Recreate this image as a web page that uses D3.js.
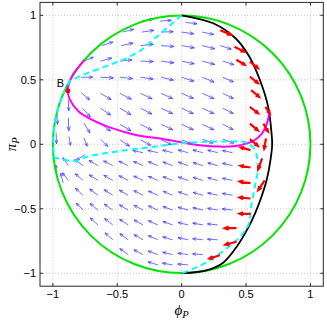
<!DOCTYPE html>
<html><head><meta charset="utf-8">
<script src="https://cdn.jsdelivr.net/npm/d3@7"></script>
<style>body{margin:0;background:#fff}</style>
</head><body>
<svg id="c" width="327" height="320"></svg>
<script>
// ---- data ----
const xTicks = [-1, -0.5, 0, 0.5, 1];
const yTicks = [-1, -0.5, 0, 0.5, 1];
const xTickLabels = ["\u22121", "\u22120.5", "0", "0.5", "1"];
const yTickLabels = ["\u22121", "\u22120.5", "0", "0.5", "1"];
const unitCircle = [{cx: 0, cy: 0, r: 1}];
const blackCurve = [[0,1],[0.245,0.938],[0.42,0.82],[0.525,0.68],[0.607,0.5],[0.672,0.29],[0.698,0.085],[0.703,0],[0.69,-0.12],[0.66,-0.277],[0.62,-0.406],[0.57,-0.535],[0.52,-0.64],[0.43,-0.79],[0.32,-0.92],[0.2,-0.975],[0,-1]];
const magentaCurve = [[-0.755,0.655],[-0.8,0.6],[-0.85,0.53],[-0.876,0.47],[-0.884,0.415],[-0.87,0.35],[-0.8,0.255],[-0.67,0.178],[-0.54,0.125],[-0.41,0.086],[-0.29,0.06],[-0.17,0.045],[0,0.015],[0.14,-0.008],[0.3,-0.018],[0.42,-0.013],[0.5,0.005],[0.56,0.028],[0.625,0.085],[0.662,0.16],[0.68,0.24]];
const cyanUpper = [[0,1],[-0.16,0.862],[-0.32,0.725],[-0.43,0.665],[-0.6,0.6],[-0.75,0.545],[-0.87,0.493],[-0.92,0.39],[-0.96,0.28],[-0.985,0.17],[-0.998,0.05],[-0.995,-0.1]];
const cyanLower = [[-0.995,-0.1],[-0.9,-0.122],[-0.83,-0.13],[-0.75,-0.1],[-0.63,-0.075],[-0.5,-0.055],[-0.3,-0.03],[-0.15,-0.01],[0,0.008],[0.2,0.02],[0.4,0.022],[0.5,0.015],[0.56,-0.03],[0.59,-0.12],[0.592,-0.2],[0.568,-0.33],[0.54,-0.48],[0.52,-0.62],[0.45,-0.72],[0.37,-0.79],[0.22,-0.9],[0.1,-0.96],[0,-1]];
const pointB = [-0.884, 0.415];
// arrows: [x, y, angle (deg), length] in data units
const fieldTop = [
  [-0.31,0.955,10,0.09],[-0.17,0.955,4,0.09],
  [-0.46,0.87,14,0.09],[-0.31,0.87,8,0.095],
  [-0.62,0.765,18,0.09],[-0.47,0.765,12,0.095],[-0.32,0.765,6,0.1],
  [-0.76,0.645,22,0.08],[-0.63,0.645,15,0.09],[-0.48,0.645,6,0.095]
];
const fieldMid = [
  [0.03,0.945,-7,0.09],
  [-0.16,0.87,2,0.095],[0.0,0.87,-8,0.095],[0.16,0.87,-12,0.09],
  [-0.16,0.765,-4,0.1],[0.0,0.765,-10,0.1],[0.16,0.765,-14,0.1],[0.30,0.765,-18,0.09],
  [-0.32,0.645,-2,0.1],[-0.16,0.645,-8,0.1],[0,0.645,-12,0.1],[0.16,0.645,-15,0.1],[0.32,0.645,-18,0.09],
  [-0.78,0.52,0,0.09],[-0.63,0.52,-3,0.1],[-0.48,0.52,-6,0.1],[-0.32,0.52,-8,0.1],[-0.16,0.52,-13,0.1],[0,0.52,-18,0.1],[0.16,0.52,-22,0.1],[0.32,0.52,-24,0.09],
  [-0.78,0.40,-40,0.085],[-0.63,0.395,-30,0.095],[-0.48,0.395,-27,0.1],[-0.32,0.395,-25,0.1],[-0.16,0.395,-24,0.1],[0,0.395,-23,0.1],[0.16,0.395,-24,0.1],[0.32,0.395,-26,0.09],
  [-0.88,0.345,-88,0.085],[-0.77,0.28,-48,0.09],[-0.63,0.28,-34,0.095],[-0.48,0.28,-30,0.1],[-0.32,0.28,-27,0.1],[-0.16,0.28,-25,0.1],[0,0.28,-25,0.1],[0.16,0.28,-25,0.1],[0.32,0.28,-27,0.09],
  [-0.97,0.245,-86,0.09],[-0.88,0.205,-88,0.1],[-0.76,0.165,-58,0.09],[-0.63,0.16,-36,0.095],[-0.48,0.155,-30,0.1],[-0.32,0.155,-27,0.1],[-0.16,0.155,-25,0.1],[0,0.155,-25,0.1],[0.16,0.155,-25,0.1],[0.32,0.155,-27,0.09],
  [-0.975,0.09,-88,0.085],[-0.875,0.06,-80,0.07],[-0.76,0.05,-68,0.07],[-0.63,0.04,-45,0.08],[-0.48,0.035,-33,0.09],[-0.32,0.035,-28,0.09],[-0.16,0.035,-25,0.09],[0,0.035,-22,0.09],[0.16,0.04,-20,0.09],[0.32,0.04,-20,0.09]
];
const fieldLow = [
  [-0.75,-0.08,212,0.08],[-0.97,-0.24,95,0.08],[-0.92,-0.30,105,0.08],
  [-0.3,-0.065,168,0.08],[-0.185,-0.065,167,0.08],[-0.07,-0.065,166,0.08],[0.05,-0.065,165,0.08],[0.165,-0.065,165,0.08],[0.28,-0.065,166,0.08],[0.395,-0.065,168,0.08],
  [-0.88,-0.165,125,0.075],[-0.765,-0.165,145,0.08],[-0.65,-0.165,150,0.08],[-0.535,-0.165,153,0.08],[-0.415,-0.165,155,0.08],[-0.3,-0.165,157,0.08],[-0.185,-0.165,158,0.08],[-0.07,-0.165,160,0.08],[0.05,-0.165,161,0.08],[0.165,-0.165,163,0.08],[0.28,-0.165,165,0.08],[0.395,-0.165,167,0.08],
  [-0.88,-0.28,128,0.075],[-0.765,-0.28,140,0.08],[-0.65,-0.28,147,0.08],[-0.535,-0.28,150,0.08],[-0.415,-0.28,153,0.08],[-0.3,-0.28,155,0.08],[-0.185,-0.28,157,0.08],[-0.07,-0.28,159,0.08],[0.05,-0.28,161,0.08],[0.165,-0.28,163,0.08],[0.28,-0.28,165,0.08],[0.395,-0.28,168,0.08],
  [-0.765,-0.395,138,0.08],[-0.65,-0.395,143,0.08],[-0.535,-0.395,147,0.08],[-0.415,-0.395,150,0.08],[-0.3,-0.395,153,0.08],[-0.185,-0.395,156,0.08],[-0.07,-0.395,158,0.08],[0.05,-0.395,161,0.08],[0.165,-0.395,164,0.08],[0.28,-0.395,167,0.08],[0.395,-0.395,170,0.08],
  [-0.765,-0.51,135,0.075],[-0.65,-0.51,140,0.08],[-0.535,-0.51,145,0.08],[-0.415,-0.51,149,0.08],[-0.3,-0.51,152,0.08],[-0.185,-0.51,156,0.08],[-0.07,-0.51,160,0.08],[0.05,-0.51,164,0.08],[0.165,-0.51,167,0.08],[0.28,-0.51,170,0.08],[0.395,-0.51,173,0.08],
  [-0.65,-0.625,138,0.08],[-0.535,-0.625,142,0.08],[-0.415,-0.625,147,0.08],[-0.3,-0.625,151,0.08],[-0.185,-0.625,156,0.08],[-0.07,-0.625,161,0.08],[0.05,-0.625,166,0.08],[0.165,-0.625,170,0.08],[0.28,-0.625,174,0.08],
  [-0.535,-0.74,138,0.08],[-0.415,-0.74,144,0.08],[-0.3,-0.74,150,0.08],[-0.185,-0.74,157,0.08],[-0.07,-0.74,164,0.08],[0.05,-0.74,169,0.08],[0.165,-0.74,174,0.08],[0.28,-0.74,177,0.08],
  [-0.415,-0.855,145,0.08],[-0.3,-0.855,152,0.08],[-0.185,-0.855,160,0.08],[-0.07,-0.855,167,0.08],[0.05,-0.855,172,0.08],[0.165,-0.855,176,0.08],
  [-0.185,-0.935,163,0.08],[-0.07,-0.935,170,0.08],[0.05,-0.935,175,0.08]
];
const fieldRed = [
  [0.30,0.885,-24,0.09],[0.41,0.757,-27,0.085],[0.425,0.655,-31,0.075],[0.53,0.641,-39,0.08],
  [0.53,0.525,-39,0.08],[0.54,0.42,-40,0.08],[0.53,0.29,-38,0.08],[0.65,0.29,-55,0.06],
  [0.53,0.16,-40,0.08],[0.635,0.16,-60,0.07],[0.53,0.04,-40,0.08],[0.655,0.045,-100,0.08],
  [0.535,-0.045,165,0.08],[0.625,-0.11,250,0.09],[0.535,-0.18,170,0.08],[0.645,-0.28,236,0.09],
  [0.535,-0.30,172,0.085],[0.535,-0.42,175,0.085],[0.535,-0.54,178,0.085],[0.426,-0.65,180,0.09],
  [0.426,-0.755,195,0.09],[0.297,-0.86,197,0.085]
];

// ---- drawing ----
const svg = d3.select("#c");
const x = d3.scaleLinear().domain([-1.1, 1.1]).range([40, 323.3]);
const y = d3.scaleLinear().domain([-1.1, 1.1]).range([286.2, 2.4]);
const [x0, x1] = x.range(), [y0, y1] = y.range();

// grid
const g = svg.append("g");
g.selectAll(".gx").data(xTicks).enter().append("line")
  .attr("x1", d => x(d)).attr("x2", d => x(d)).attr("y1", y1).attr("y2", y0)
  .attr("stroke", "#b8b8b8").attr("stroke-width", 0.8).attr("stroke-dasharray", "1,2");
g.selectAll(".gy").data(yTicks).enter().append("line")
  .attr("y1", d => y(d)).attr("y2", d => y(d)).attr("x1", x0).attr("x2", x1)
  .attr("stroke", "#b8b8b8").attr("stroke-width", 0.8).attr("stroke-dasharray", "1,2");

// arrows
function arrowPath(d) {
  const [ax, ay, ang, len] = d;
  const r = ang * Math.PI / 180;
  const px0 = x(ax), py0 = y(ay);
  const px1 = x(ax + len * Math.cos(r)), py1 = y(ay + len * Math.sin(r));
  const dx = px1 - px0, dy = py1 - py0;
  const L = Math.hypot(dx, dy);
  const ux = dx / L, uy = dy / L;
  const h = Math.max(3.2, L * 0.33), s = Math.tan(22 * Math.PI / 180) * h;
  const bx = px1 - ux * h, by = py1 - uy * h;
  return `M${px0},${py0}L${px1},${py1}M${bx - uy * s},${by + ux * s}L${px1},${py1}L${bx + uy * s},${by - ux * s}`;
}
const blue = fieldTop.concat(fieldMid, fieldLow);
svg.append("g").selectAll("path").data(blue).enter().append("path")
  .attr("d", arrowPath).attr("fill", "none").attr("stroke", "#3535ff")
  .attr("stroke-width", 0.9).attr("stroke-opacity", 0.8);

// circle
svg.append("g").selectAll("circle").data(unitCircle).enter().append("circle")
  .attr("cx", d => x(d.cx)).attr("cy", d => y(d.cy)).attr("r", d => x(d.r) - x(0))
  .attr("fill", "none").attr("stroke", "#00e600").attr("stroke-width", 2);

const line = d3.line().x(d => x(d[0])).y(d => y(d[1])).curve(d3.curveCatmullRom);
svg.append("path").datum(blackCurve).attr("d", line).attr("fill", "none")
  .attr("stroke", "#000").attr("stroke-width", 1.8);
svg.append("path").datum(magentaCurve).attr("d", line).attr("fill", "none")
  .attr("stroke", "#ff00ff").attr("stroke-width", 2);
const lineL = d3.line().x(d => x(d[0])).y(d => y(d[1]));
svg.append("path").datum(cyanUpper).attr("d", lineL).attr("fill", "none")
  .attr("stroke", "#00ffff").attr("stroke-width", 2).attr("stroke-dasharray", "6,4");
svg.append("path").datum(cyanLower).attr("d", line).attr("fill", "none")
  .attr("stroke", "#00ffff").attr("stroke-width", 2).attr("stroke-dasharray", "6,4");

svg.append("g").selectAll("path").data(fieldRed).enter().append("path")
  .attr("d", arrowPath).attr("fill", "none").attr("stroke", "#ff0000")
  .attr("stroke-width", 2.2);

svg.append("circle").attr("cx", x(pointB[0])).attr("cy", y(pointB[1])).attr("r", 2.5).attr("fill", "#ff0000");
svg.append("text").attr("x", x(pointB[0]) - 11).attr("y", y(pointB[1]) - 4)
  .attr("font-family", "Liberation Sans, Arial, sans-serif").attr("font-size", 11).text("B");

// frame
svg.append("rect").attr("x", x0).attr("y", y1).attr("width", x1 - x0).attr("height", y0 - y1)
  .attr("fill", "none").attr("stroke", "#262626").attr("stroke-width", 1);
// ticks
const tk = svg.append("g").attr("stroke", "#262626").attr("stroke-width", 1);
xTicks.forEach(t => {
  tk.append("line").attr("x1", x(t)).attr("x2", x(t)).attr("y1", y0).attr("y2", y0 - 3);
  tk.append("line").attr("x1", x(t)).attr("x2", x(t)).attr("y1", y1).attr("y2", y1 + 3);
});
yTicks.forEach(t => {
  tk.append("line").attr("y1", y(t)).attr("y2", y(t)).attr("x1", x0).attr("x2", x0 + 3);
  tk.append("line").attr("y1", y(t)).attr("y2", y(t)).attr("x1", x1).attr("x2", x1 - 3);
});
const font = "Liberation Sans, Arial, Helvetica, sans-serif";
svg.append("g").selectAll("text").data(xTicks).enter().append("text")
  .attr("x", d => x(d)).attr("y", y0 + 12).attr("text-anchor", "middle")
  .attr("font-family", font).attr("font-size", 11).text((d, i) => xTickLabels[i]);
svg.append("g").selectAll("text").data(yTicks).enter().append("text")
  .attr("x", x0 - 4).attr("y", d => y(d) + 4).attr("text-anchor", "end")
  .attr("font-family", font).attr("font-size", 11).text((d, i) => yTickLabels[i]);

// axis labels
const xl = svg.append("text").attr("x", x(0)).attr("y", 315).attr("text-anchor", "middle")
  .attr("font-family", "Liberation Serif, Times New Roman, serif").attr("font-style", "italic").attr("font-size", 15);
xl.append("tspan").text("\u03D5");
xl.append("tspan").attr("font-size", 10.5).attr("dy", 3).text("P");
const yl = svg.append("text").attr("transform", `translate(16,${y(0)}) rotate(-90)`).attr("text-anchor", "middle")
  .attr("font-family", "Liberation Serif, Times New Roman, serif").attr("font-style", "italic").attr("font-size", 15);
yl.append("tspan").text("\u03C0");
yl.append("tspan").attr("font-size", 10.5).attr("dy", 3).text("P");
</script>
</body></html>
